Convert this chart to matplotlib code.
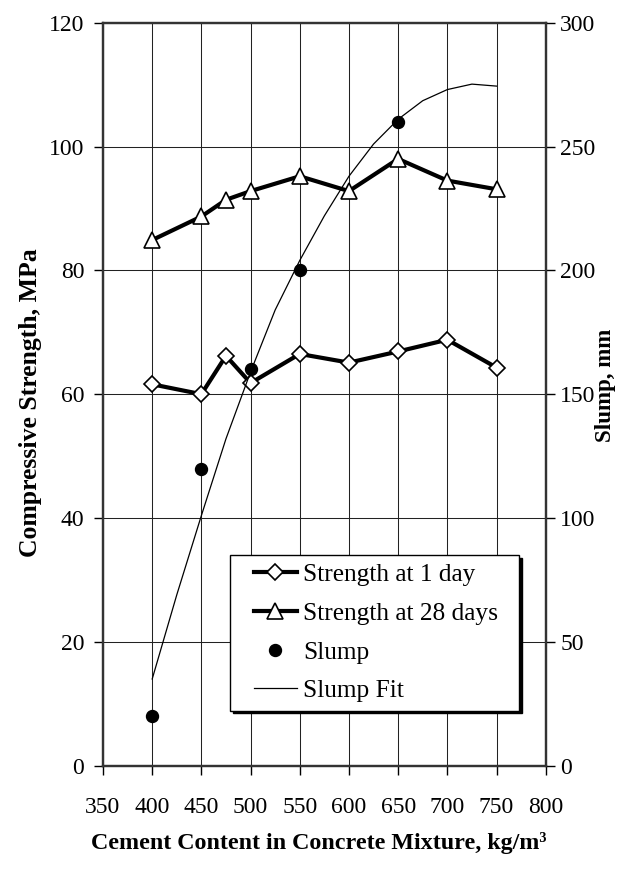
import matplotlib
matplotlib.use('Agg')
import matplotlib.pyplot as plt
from matplotlib.lines import Line2D
from matplotlib.legend_handler import HandlerLine2D

plt.rcParams['font.family'] = ['Liberation Serif', 'DejaVu Serif']

# cement content, kg/m3
cement = [400, 450, 475, 500, 550, 600, 650, 700, 750]
# compressive strength, MPa
strength_1day = [61.6, 60.0, 66.2, 61.8, 66.5, 65.1, 66.9, 68.8, 64.3]
strength_28day = [84.9, 88.7, 91.4, 92.8, 95.2, 92.8, 98.0, 94.5, 93.1]

# slump, mm
slump_cement = [400, 450, 500, 550, 650]
slump = [20, 120, 160, 200, 260]

# slump fit curve
fit_cement = [400, 425, 450, 475, 500, 525, 550, 575, 600, 625, 650, 675, 700, 725, 750]
fit_slump = [35, 69, 101, 132, 159, 184, 204, 222, 238, 251, 261, 268.5, 273, 275.2, 274.4]

x_ticks = [350, 400, 450, 500, 550, 600, 650, 700, 750, 800]
left_ticks = [0, 20, 40, 60, 80, 100, 120]
right_ticks = [0, 50, 100, 150, 200, 250, 300]

fig = plt.figure(figsize=(6.39, 8.74), dpi=100)
ax = fig.add_axes([103 / 639, 108.3 / 874, 442.7 / 639, 743 / 874])
ax2 = ax.twinx()

l1, = ax.plot(cement, strength_1day, color='black', lw=3, marker='D', ms=8,
              mfc='white', mec='black', mew=1.2, label='Strength at 1 day')
l2, = ax.plot(cement, strength_28day, color='black', lw=3, marker='^', ms=11.5,
              mfc='white', mec='black', mew=1.2, label='Strength at 28 days')

l3, = ax2.plot(slump_cement, slump, linestyle='none', marker='o', ms=8.6,
               color='black', label='Slump')
l4, = ax2.plot(fit_cement, fit_slump, color='black', lw=0.9, label='Slump Fit')

ax.set_xlim(350, 800)
ax.set_ylim(0, 120)
ax2.set_ylim(0, 300)
ax.set_xticks(x_ticks)
ax.set_yticks(left_ticks)
ax2.set_yticks(right_ticks)

ax.grid(True, color='#222222', lw=0.75)
ax.set_axisbelow(True)

for a in (ax, ax2):
    for sp in a.spines.values():
        sp.set_linewidth(1.6)
        sp.set_color('#333333')
ax.tick_params(axis='both', direction='out', length=6.5, width=1, labelsize=17)
ax.tick_params(axis='x', pad=16)
ax.tick_params(axis='y', pad=7)
ax2.tick_params(axis='y', direction='out', length=6.5, width=1, labelsize=17, pad=4)

fig.text(31 / 639, 1 - 403 / 874, 'Compressive Strength, MPa', rotation=90,
         fontsize=18.5, fontweight='bold', ha='center', va='center')
fig.text(606 / 639, 1 - 385 / 874, 'Slump, mm', rotation=90,
         fontsize=16.5, fontweight='bold', ha='center', va='center')
fig.text(319 / 639, 1 - 843 / 874, 'Cement Content in Concrete Mixture, kg/m³',
         fontsize=17.3, fontweight='bold', ha='center', va='center')

# shift legend handles to the right inside their box
handler = HandlerLine2D(xpad=0.6)
leg = ax2.legend(handles=[l1, l2, l3, l4], loc='lower left',
                 bbox_to_anchor=(0.287, 0.074, 0.653, 0.212), mode='expand',
                 fontsize=18.3, frameon=True, fancybox=False,
                 shadow={'facecolor': 'black', 'edgecolor': 'black', 'alpha': 1},
                 borderpad=0.33, labelspacing=0.63, handlelength=2.3,
                 handletextpad=0.25, borderaxespad=0,
                 handler_map={Line2D: handler})
leg.get_frame().set_edgecolor('black')
leg.get_frame().set_linewidth(1)
leg.get_frame().set_alpha(1)

fig.savefig('out.png', dpi=100)
